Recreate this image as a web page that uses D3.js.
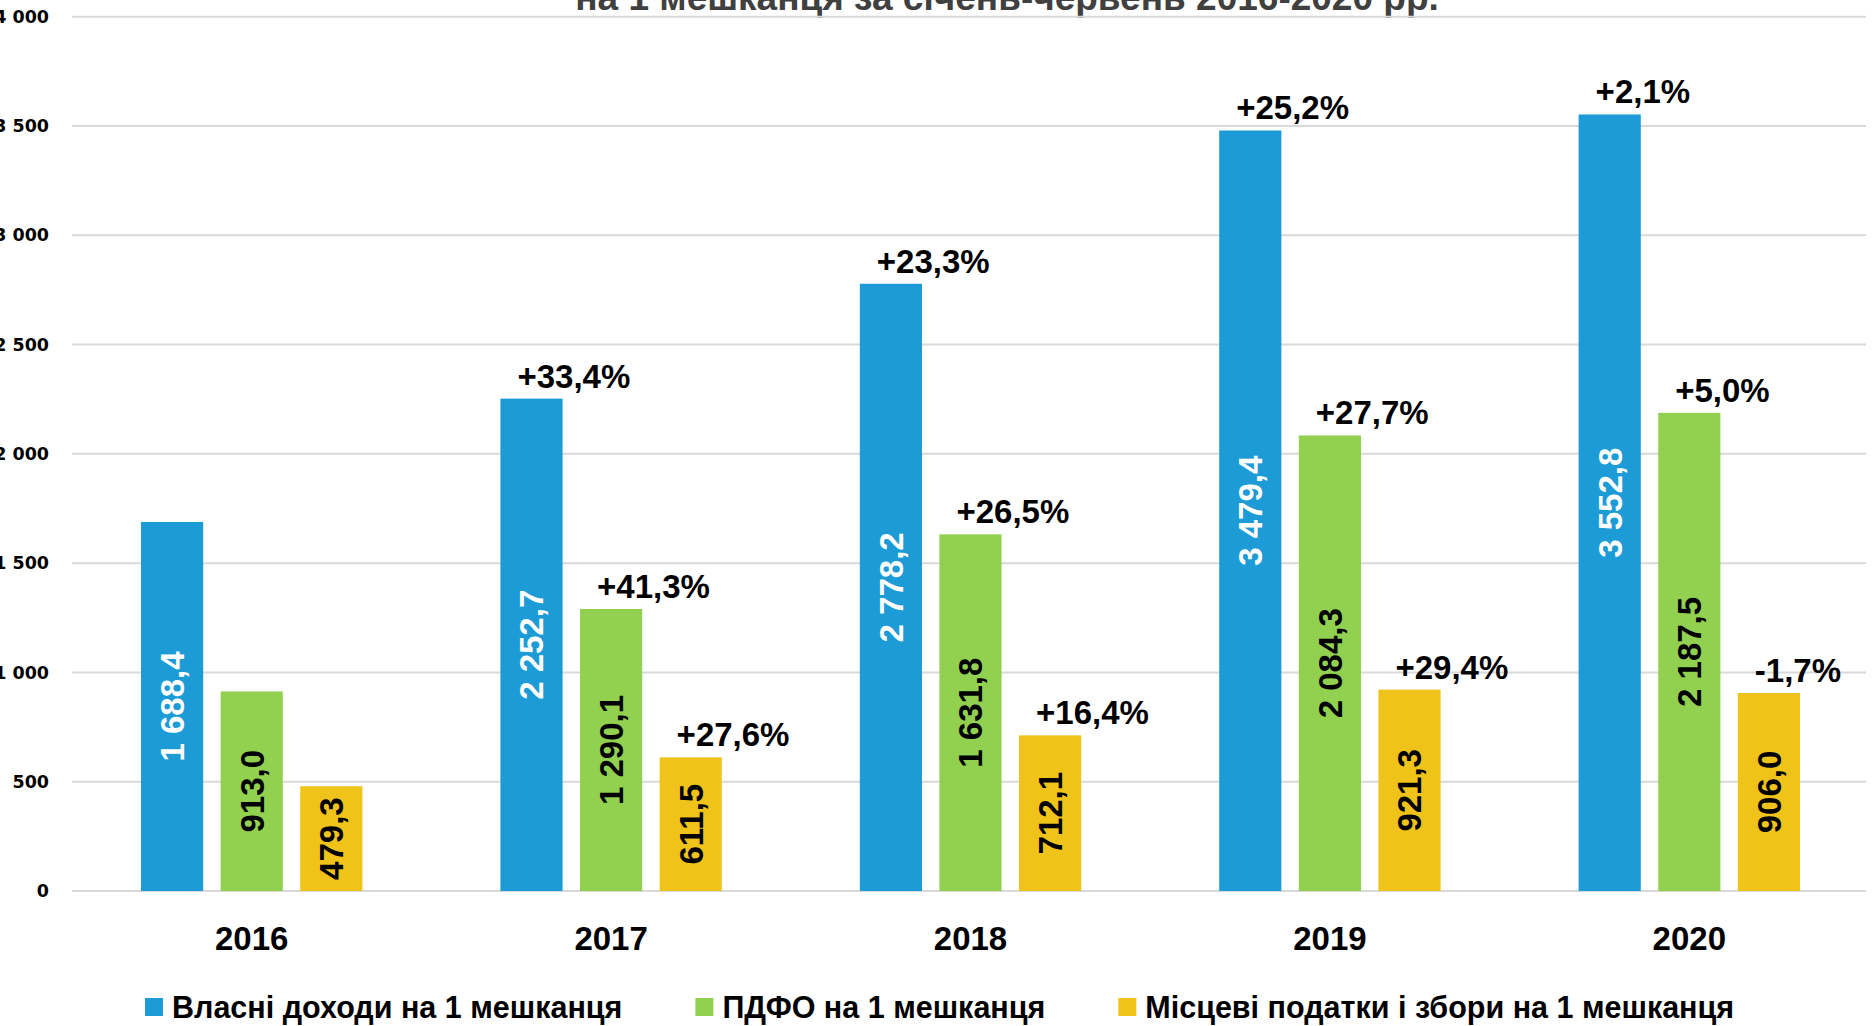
<!DOCTYPE html>
<html>
<head>
<meta charset="utf-8">
<script src="https://cdn.jsdelivr.net/npm/d3@7"></script>
<style>
  body { margin: 0; background: #fff; overflow: hidden; }
  svg { display: block; }
</style>
</head>
<body>
<div id="chart"></div>
<script>
const years = ["2016", "2017", "2018", "2019", "2020"];
const seriesNames = [
  "Власні доходи на 1 мешканця",
  "ПДФО на 1 мешканця",
  "Місцеві податки і збори на 1 мешканця"
];
const ownIncome = [1688.4, 2252.7, 2778.2, 3479.4, 3552.8];
const pdfo = [913.0, 1290.1, 1631.8, 2084.3, 2187.5];
const localTaxes = [479.3, 611.5, 712.1, 921.3, 906.0];
const ownIncomeGrowth = [null, "+33,4%", "+23,3%", "+25,2%", "+2,1%"];
const pdfoGrowth = [null, "+41,3%", "+26,5%", "+27,7%", "+5,0%"];
const localTaxesGrowth = [null, "+27,6%", "+16,4%", "+29,4%", "-1,7%"];
const yTicks = [0, 500, 1000, 1500, 2000, 2500, 3000, 3500, 4000];
const titleLine = "на 1 мешканця за січень-червень 2016-2020 рр.";

const width = 1876;
const height = 1026;
const colors = ["#1C9BD6", "#92D050", "#F0C31B"];
const labelColors = ["#ffffff", "#000000", "#000000"];
const font = "'Liberation Sans', Arial, sans-serif";

const seriesValues = [ownIncome, pdfo, localTaxes];
const seriesGrowth = [ownIncomeGrowth, pdfoGrowth, localTaxesGrowth];

const svg = d3.select("#chart")
  .append("svg")
  .attr("width", width)
  .attr("height", height);

const x0 = d3.scaleBand()
  .domain(years)
  .range([72, 1869])
  .paddingInner(0.384)
  .paddingOuter(0.192);

const x1 = d3.scaleBand()
  .domain(d3.range(seriesNames.length))
  .range([0, x0.bandwidth()])
  .paddingInner(0.219);

const y = d3.scaleLinear()
  .domain([0, 4000])
  .range([891, 16.7]);

// title (its top part lies above the picture)
svg.append("text")
  .attr("x", 1007)
  .attr("y", 10)
  .attr("text-anchor", "middle")
  .style("font-family", font)
  .style("font-weight", "bold")
  .style("font-size", "37px")
  .style("fill", "#404040")
  .text(titleLine);

// gridlines
svg.append("g")
  .selectAll("line")
  .data(yTicks)
  .join("line")
  .attr("x1", 72)
  .attr("x2", 1866)
  .attr("y1", d => y(d))
  .attr("y2", d => y(d))
  .attr("stroke", "#D9D9D9")
  .attr("stroke-width", 2);

// y axis labels
const yAxis = d3.axisLeft(y)
  .tickValues(yTicks)
  .tickSize(0)
  .tickPadding(0)
  .tickFormat(d => d3.format(",")(d).replace(/,/g, " "));

svg.append("g")
  .attr("transform", "translate(49,0)")
  .call(yAxis)
  .call(g => g.select(".domain").remove())
  .selectAll("text")
  .style("font-family", "'DejaVu Sans', Verdana, sans-serif")
  .style("font-weight", "bold")
  .style("font-size", "17.5px")
  .style("fill", "#000");

// x axis labels
const xAxis = d3.axisBottom(x0).tickSize(0).tickPadding(0);
svg.append("g")
  .attr("transform", "translate(0,927)")
  .call(xAxis)
  .call(g => g.select(".domain").remove())
  .selectAll("text")
  .attr("dy", "0.71em")
  .style("font-family", font)
  .style("font-weight", "bold")
  .style("font-size", "33px")
  .style("fill", "#000");

// bars
const rows = [];
years.forEach((yr, i) => {
  seriesValues.forEach((vals, s) => {
    rows.push({ year: yr, s: s, value: vals[i], growth: seriesGrowth[s][i] });
  });
});

const bars = svg.append("g")
  .selectAll("g")
  .data(rows)
  .join("g")
  .attr("transform", d => `translate(${x0(d.year) + x1(d.s)},0)`);

bars.append("rect")
  .attr("x", 0)
  .attr("y", d => y(d.value))
  .attr("width", x1.bandwidth())
  .attr("height", d => y(0) - y(d.value))
  .attr("fill", d => colors[d.s]);

// value labels inside bars (rotated)
bars.append("text")
  .attr("transform", d => `translate(${x1.bandwidth() / 2},${(y(d.value) + y(0)) / 2}) rotate(-90)`)
  .attr("text-anchor", "middle")
  .attr("dy", "0.36em")
  .style("font-family", font)
  .style("font-weight", "bold")
  .style("font-size", "33px")
  .style("fill", d => labelColors[d.s])
  .text(d => d3.format(",.1f")(d.value).replace(/,/g, " ").replace(".", ","));

// growth labels above bars
bars.filter(d => d.growth)
  .append("text")
  .attr("x", 17)
  .attr("y", d => y(d.value) - 11)
  .attr("text-anchor", "start")
  .style("font-family", font)
  .style("font-weight", "bold")
  .style("font-size", "33px")
  .style("fill", "#000")
  .text(d => d.growth);

// legend
const legend = svg.append("g").attr("transform", "translate(145,1007)");
let lx = 0;
seriesNames.forEach((name, s) => {
  const item = legend.append("g").attr("transform", `translate(${lx},0)`);
  item.append("rect")
    .attr("x", 0)
    .attr("y", -9)
    .attr("width", 18)
    .attr("height", 18)
    .attr("fill", colors[s]);
  const t = item.append("text")
    .attr("x", 27)
    .attr("dy", "0.36em")
    .style("font-family", font)
    .style("font-weight", "bold")
    .style("font-size", "30.5px")
    .style("fill", "#000")
    .text(name);
  lx += 27 + t.node().getComputedTextLength() + 73;
});
</script>
</body>
</html>
